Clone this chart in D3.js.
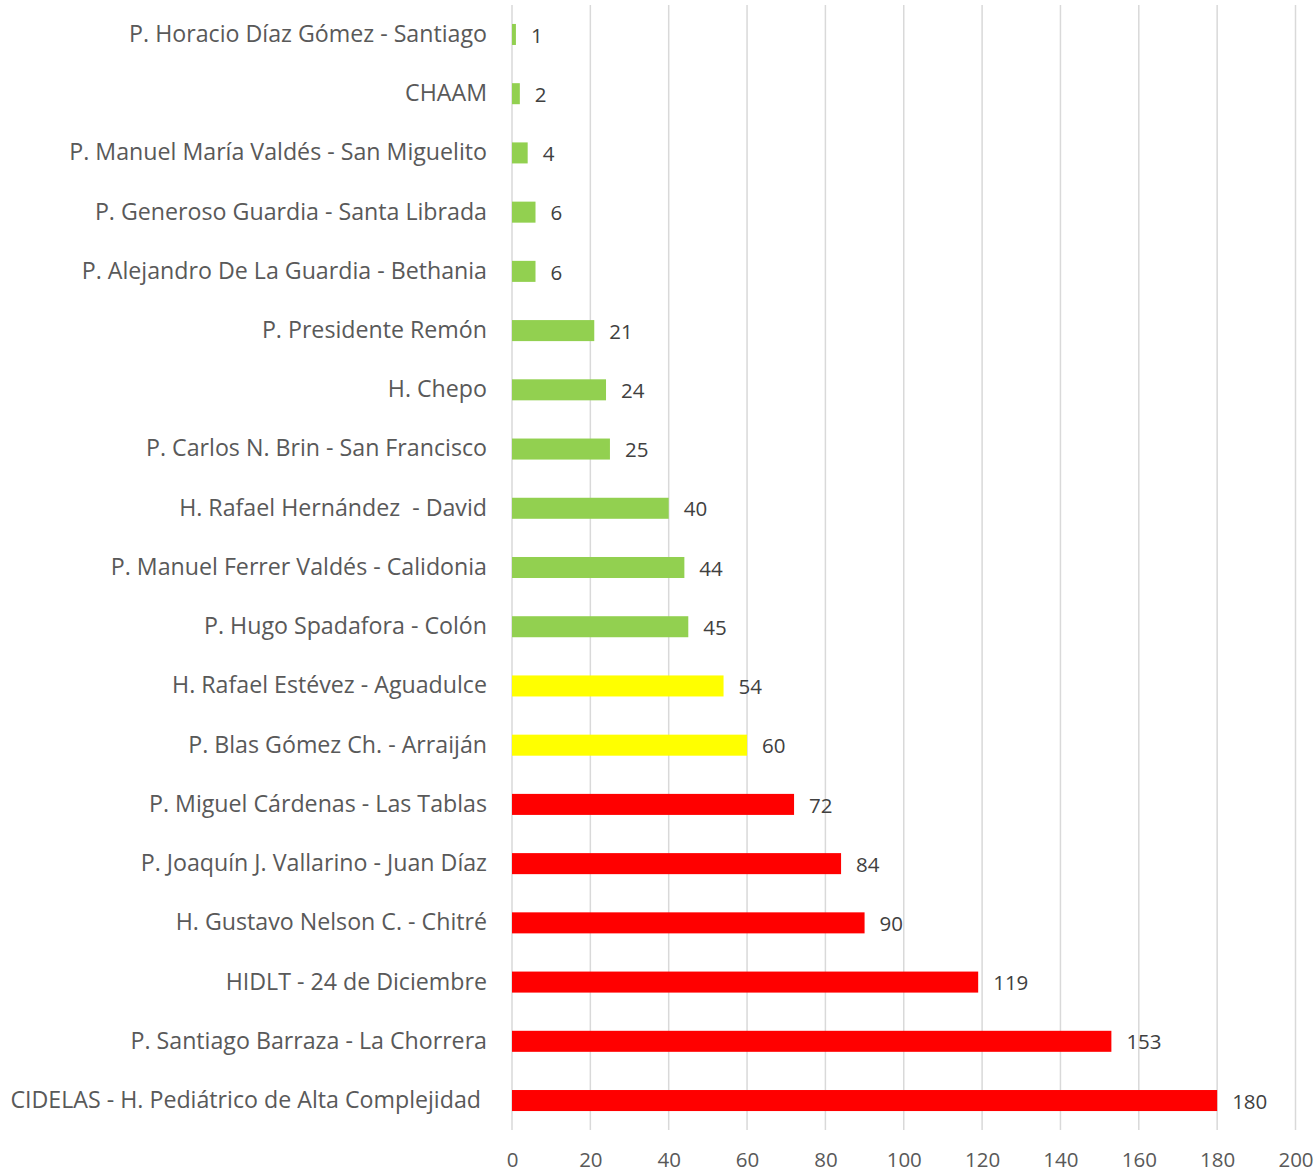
<!DOCTYPE html>
<html>
<head>
<meta charset="utf-8">
<script src="https://cdn.jsdelivr.net/npm/d3@7"></script>
<style>
  body { margin: 0; background: #fff; }
  svg { display: block; font-family: "Open Sans", Lato, sans-serif; }
</style>
</head>
<body>
<div class="chart"></div>
<script>
// data, top to bottom
var categories = [
  "P. Horacio Díaz Gómez - Santiago",
  "CHAAM",
  "P. Manuel María Valdés - San Miguelito",
  "P. Generoso Guardia - Santa Librada",
  "P. Alejandro De La Guardia - Bethania",
  "P. Presidente Remón",
  "H. Chepo",
  "P. Carlos N. Brin - San Francisco",
  "H. Rafael Hernández  - David",
  "P. Manuel Ferrer Valdés - Calidonia",
  "P. Hugo Spadafora - Colón",
  "H. Rafael Estévez - Aguadulce",
  "P. Blas Gómez Ch. - Arraiján",
  "P. Miguel Cárdenas - Las Tablas",
  "P. Joaquín J. Vallarino - Juan Díaz",
  "H. Gustavo Nelson C. - Chitré",
  "HIDLT - 24 de Diciembre",
  "P. Santiago Barraza - La Chorrera",
  "CIDELAS - H. Pediátrico de Alta Complejidad "
];
var values = [1, 2, 4, 6, 6, 21, 24, 25, 40, 44, 45, 54, 60, 72, 84, 90, 119, 153, 180];
var levels = ["verde", "verde", "verde", "verde", "verde", "verde", "verde", "verde", "verde", "verde", "verde",
              "amarillo", "amarillo", "rojo", "rojo", "rojo", "rojo", "rojo", "rojo"];
var xTicks = [0, 20, 40, 60, 80, 100, 120, 140, 160, 180, 200];

var levelColor = { verde: "#92D050", amarillo: "#FFFF00", rojo: "#FF0000" };

var svgWidth = 1316;
var svgHeight = 1172;
var margin = { top: 5, right: 20, bottom: 42, left: 512 };
var width = svgWidth - margin.left - margin.right;
var height = svgHeight - margin.top - margin.bottom;

var svg = d3.select(".chart")
  .append("svg")
  .attr("width", svgWidth)
  .attr("height", svgHeight);

var chart = svg.append("g")
  .attr("transform", "translate(" + margin.left + "," + margin.top + ")");

var xScale = d3.scaleLinear().domain([0, 200]).range([0, 783.5]);
var yScale = d3.scaleBand().domain(categories).range([0, height]).paddingInner(0.645).paddingOuter(0.32);

// gridlines
chart.append("g")
  .selectAll("line")
  .data(xTicks)
  .enter()
  .append("line")
  .attr("x1", function (d) { return xScale(d); })
  .attr("x2", function (d) { return xScale(d); })
  .attr("y1", 0)
  .attr("y2", height)
  .attr("stroke", "#D9D9D9")
  .attr("stroke-width", 1.5);

// bars
chart.selectAll(".bar")
  .data(values)
  .enter()
  .append("rect")
  .attr("class", "bar")
  .attr("x", xScale(0))
  .attr("y", function (d, i) { return yScale(categories[i]); })
  .attr("width", function (d) { return xScale(d) - xScale(0); })
  .attr("height", yScale.bandwidth())
  .attr("fill", function (d, i) { return levelColor[levels[i]]; });

// value labels
chart.selectAll(".valueText")
  .data(values)
  .enter()
  .append("text")
  .attr("class", "valueText")
  .attr("x", function (d) { return xScale(d) + 15; })
  .attr("y", function (d, i) { return yScale(categories[i]) + yScale.bandwidth() / 2 + 1; })
  .attr("dy", "0.35em")
  .attr("font-size", "20.5px")
  .attr("fill", "#404040")
  .text(function (d) { return d; });

// category labels
var yAxis = d3.axisLeft(yScale).tickSize(0).tickPadding(25);
var yg = chart.append("g").attr("class", "y-axis").call(yAxis);
yg.select(".domain").remove();
yg.selectAll("text")
  .attr("font-family", "'Open Sans', Lato, sans-serif")
  .attr("font-size", "23.2px")
  .attr("fill", "#595959")
  .style("white-space", "pre");

// x axis
var xAxis = d3.axisBottom(xScale).tickValues(xTicks).tickSize(0).tickPadding(22);
var xg = chart.append("g").attr("class", "x-axis")
  .attr("transform", "translate(0," + height + ")")
  .call(xAxis);
xg.select(".domain").remove();
xg.selectAll("text")
  .attr("font-family", "'Open Sans', Lato, sans-serif")
  .attr("font-size", "20.5px")
  .attr("fill", "#595959");
</script>
</body>
</html>
